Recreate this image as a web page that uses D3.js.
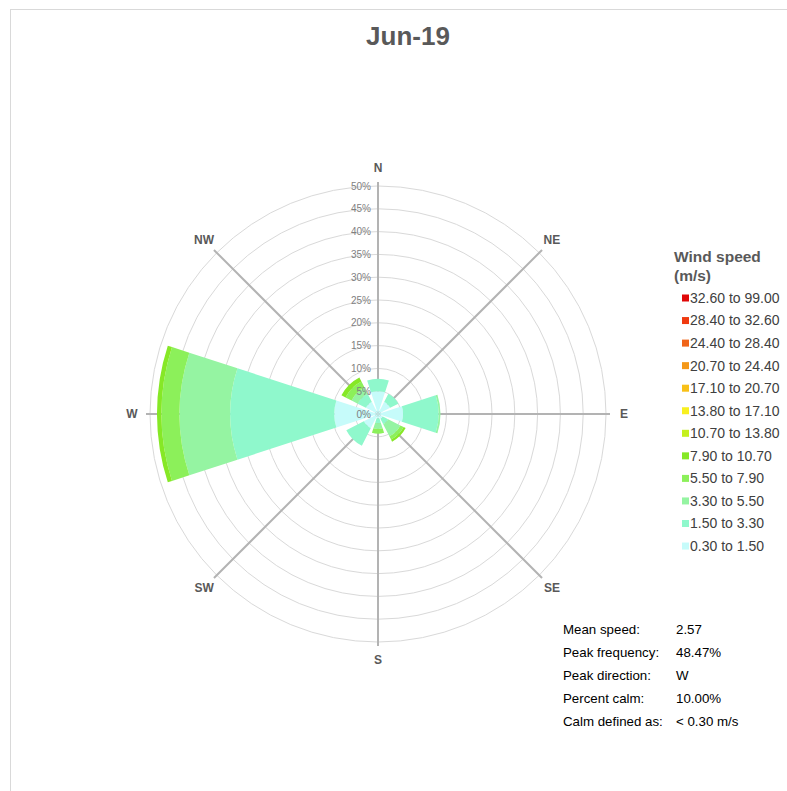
<!DOCTYPE html>
<html>
<head>
<meta charset="utf-8">
<script src="https://cdn.jsdelivr.net/npm/d3@7"></script>
<style>
  body { margin: 0; background: #fff; }
  svg { display: block; font-family: Arial, "Liberation Sans", sans-serif; }
</style>
</head>
<body>
<div id="chart"></div>
<script>
// wind directions, clockwise from north
const directions = ["N", "NE", "E", "SE", "S", "SW", "W", "NW"];

// speed bins, lowest first
const speedBins = ["0.30 to 1.50", "1.50 to 3.30", "3.30 to 5.50", "5.50 to 7.90",
  "7.90 to 10.70", "10.70 to 13.80", "13.80 to 17.10", "17.10 to 20.70",
  "20.70 to 24.40", "24.40 to 28.40", "28.40 to 32.60", "32.60 to 99.00"];

// frequency (%) per direction for each speed bin
const f0_30 = [5.0, 3.0, 5.5, 1.2, 1.0, 3.5, 9.6, 3.0];
const f1_50 = [2.7, 2.0, 7.8, 1.3, 1.0, 4.3, 22.8, 2.0];
const f3_30 = [0, 0, 0.4, 3.0, 1.3, 0, 11.1, 1.5];
const f5_50 = [0, 0, 0, 0.8, 1.0, 0, 4.0, 1.5];
const f7_90 = [0, 0, 0, 0.5, 0, 0, 0.97, 1.0];
const f10_70 = [0, 0, 0, 0, 0, 0, 0, 0];
const f13_80 = [0, 0, 0, 0, 0, 0, 0, 0];
const f17_10 = [0, 0, 0, 0, 0, 0, 0, 0];
const f20_70 = [0, 0, 0, 0, 0, 0, 0, 0];
const f24_40 = [0, 0, 0, 0, 0, 0, 0, 0];
const f28_40 = [0, 0, 0, 0, 0, 0, 0, 0];
const f32_60 = [0, 0, 0, 0, 0, 0, 0, 0];

const radialTicks = [0, 5, 10, 15, 20, 25, 30, 35, 40, 45, 50];

const statLabels = ["Mean speed:", "Peak frequency:", "Peak direction:", "Percent calm:", "Calm defined as:"];
const statValues = ["2.57", "48.47%", "W", "10.00%", "< 0.30 m/s"];

const binColors = ["#c6fbfa", "#8ff8cc", "#95f4a2", "#8cf05a", "#86e826", "#c4f01e",
  "#f8f020", "#f8c018", "#f49818", "#f06418", "#f03a10", "#e00808"];

const freqByBin = [f0_30, f1_50, f3_30, f5_50, f7_90, f10_70, f13_80, f17_10, f20_70, f24_40, f28_40, f32_60];

const width = 787, height = 791;
const cx = 378, cy = 414, R = 228;

const svg = d3.select("#chart").append("svg")
  .attr("width", width)
  .attr("height", height);

// frame
svg.append("rect")
  .attr("x", 10.5).attr("y", 9.5)
  .attr("width", 800).attr("height", 800)
  .attr("fill", "#fff")
  .attr("stroke", "#d9d9d9");

svg.append("text")
  .attr("x", 408).attr("y", 45)
  .attr("text-anchor", "middle")
  .style("font-size", "26px").style("font-weight", "bold")
  .attr("fill", "#595959")
  .text("Jun-19");

const r = d3.scaleLinear().domain([0, 50]).range([0, R]);
const angle = d3.scaleBand().domain(directions).range([-Math.PI / 8, 2 * Math.PI - Math.PI / 8]).paddingInner(0.2).paddingOuter(0.1);

const g = svg.append("g").attr("transform", `translate(${cx},${cy})`);

// grid circles
g.selectAll(".ring")
  .data(radialTicks.slice(1))
  .enter().append("circle")
  .attr("r", d => r(d))
  .attr("fill", "none")
  .attr("stroke", "#d9d9d9");

// spokes
g.selectAll(".spoke")
  .data(directions)
  .enter().append("line")
  .attr("x1", 0).attr("y1", 0)
  .attr("x2", (d, i) => Math.sin(i * Math.PI / 4) * (R + 4))
  .attr("y2", (d, i) => -Math.cos(i * Math.PI / 4) * (R + 4))
  .attr("stroke", "#b3b3b3")
  .attr("stroke-width", 2);

// stacked wedges
const arc = d3.arc();
directions.forEach((dir, i) => {
  let cum = 0;
  freqByBin.forEach((vals, b) => {
    const v = vals[i];
    if (v <= 0) return;
    g.append("path")
      .attr("d", arc({
        innerRadius: r(cum),
        outerRadius: r(cum + v),
        startAngle: angle(dir),
        endAngle: angle(dir) + angle.bandwidth()
      }))
      .attr("fill", binColors[b]);
    cum += v;
  });
});

// radial tick labels
g.selectAll(".tick")
  .data(radialTicks)
  .enter().append("text")
  .attr("x", -7)
  .attr("y", d => -r(d))
  .attr("dy", "0.35em")
  .attr("text-anchor", "end")
  .style("font-size", "10px")
  .attr("fill", "#808080")
  .text(d => d + "%");

// direction labels
g.selectAll(".dir")
  .data(directions)
  .enter().append("text")
  .attr("x", (d, i) => Math.sin(i * Math.PI / 4) * 246)
  .attr("y", (d, i) => -Math.cos(i * Math.PI / 4) * 246)
  .attr("dy", "0.35em")
  .attr("text-anchor", "middle")
  .style("font-size", "12px").style("font-weight", "bold")
  .attr("fill", "#595959")
  .text(d => d);

// legend
const legend = svg.append("g").attr("transform", "translate(674,0)");
legend.append("text").attr("x", 0).attr("y", 262)
  .style("font-size", "15.5px").style("font-weight", "bold").attr("fill", "#595959")
  .text("Wind speed");
legend.append("text").attr("x", 0).attr("y", 281)
  .style("font-size", "15.5px").style("font-weight", "bold").attr("fill", "#595959")
  .text("(m/s)");

const legendItems = speedBins.map((s, i) => ({ label: s, color: binColors[i] })).reverse();
const item = legend.selectAll(".item")
  .data(legendItems)
  .enter().append("g")
  .attr("transform", (d, i) => `translate(0,${298 + i * 22.55})`);
item.append("rect")
  .attr("x", 8).attr("y", -3.5)
  .attr("width", 7).attr("height", 7)
  .attr("fill", d => d.color);
item.append("text")
  .attr("x", 16).attr("dy", "0.35em")
  .style("font-size", "14px")
  .attr("fill", "#404040")
  .text(d => d.label);

// stats block
const stats = svg.append("g");
statLabels.forEach((s, i) => {
  stats.append("text").attr("x", 563).attr("y", 629 + i * 23).attr("dy", "0.35em")
    .style("font-size", "13.3px").attr("fill", "#000").text(s);
  stats.append("text").attr("x", 676).attr("y", 629 + i * 23).attr("dy", "0.35em")
    .style("font-size", "13.3px").attr("fill", "#000").text(statValues[i]);
});
</script>
</body>
</html>
